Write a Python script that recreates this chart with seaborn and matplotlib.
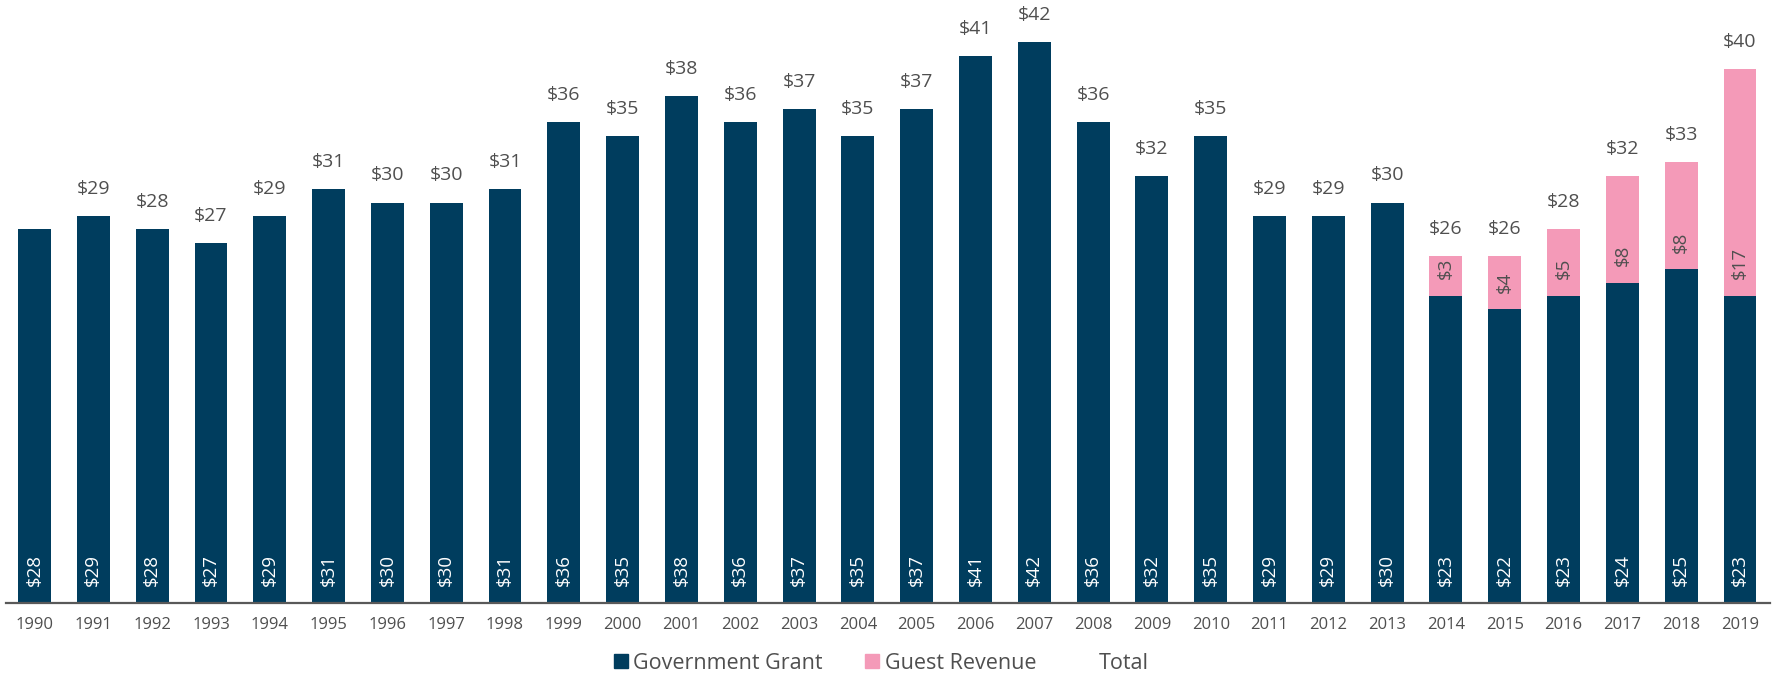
import numpy as np
import pandas as pd
import matplotlib
matplotlib.use('Agg')
import matplotlib.pyplot as plt
import seaborn as sns
from matplotlib.patches import Patch

years = [str(y) for y in range(1990, 2020)]
grant = [28, 29, 28, 27, 29, 31, 30, 30, 31, 36, 35, 38, 36, 37, 35, 37,
         41, 42, 36, 32, 35, 29, 29, 30, 23, 22, 23, 24, 25, 23]
guest = [0] * 24 + [3, 4, 5, 8, 8, 17]

navy = '#003d5e'
pink = '#f49ab8'
grey = '#4f4f4f'

df = pd.DataFrame({'year': years, 'grant': grant, 'guest': guest})
df['total'] = df['grant'] + df['guest']

sns.set_theme(style='white')
plt.rcParams['font.family'] = ['Open Sans', 'DejaVu Sans']

fig = plt.figure(figsize=(17.73, 6.83), dpi=100)
ax = fig.add_axes([0.0034, 0.1171, 0.9949, 0.8796])

# stacked look: totals in pink, grant drawn over them
sns.barplot(data=df, x='year', y='total', color=pink, width=0.56,
            saturation=1, linewidth=0, ax=ax)
sns.barplot(data=df, x='year', y='grant', color=navy, width=0.56,
            saturation=1, linewidth=0, ax=ax)

for i, row in df.iterrows():
    # grant value, rotated at the base
    ax.annotate('${}'.format(row['grant']), (i, 0), xytext=(0, 12),
                textcoords='offset points', rotation=90, ha='center',
                va='bottom', color='white', fontsize=13.5)
    if row['guest'] > 0:
        ax.annotate('${}'.format(row['guest']), (i, row['grant']), xytext=(0, 12),
                    textcoords='offset points', rotation=90, ha='center',
                    va='bottom', color=grey, fontsize=13.5)
    if i > 0:
        ax.annotate('${}'.format(row['total']), (i, row['total']), xytext=(0, 13),
                    textcoords='offset points', ha='center', va='bottom',
                    color=grey, fontsize=14)

ax.set_xlim(-0.485, 29.51)
ax.set_ylim(0, 45)
ax.set_xlabel('')
ax.set_ylabel('')
ax.set_yticks([])
sns.despine(ax=ax, left=True)
ax.spines['bottom'].set_color('#595959')
ax.spines['bottom'].set_linewidth(1.6)
ax.tick_params(axis='x', length=0, pad=10, labelsize=12, labelcolor=grey)

handles = [Patch(color=navy), Patch(color=pink), Patch(color='none')]
fig.legend(handles, ['Government Grant', 'Guest Revenue', 'Total'],
           loc='lower center', bbox_to_anchor=(0.497, -0.015), ncol=3,
           frameon=False, fontsize=15.5, handlelength=0.65, handleheight=0.65,
           handletextpad=0.25, columnspacing=2.0, labelcolor=grey)

fig.savefig('out.png', dpi=100)
